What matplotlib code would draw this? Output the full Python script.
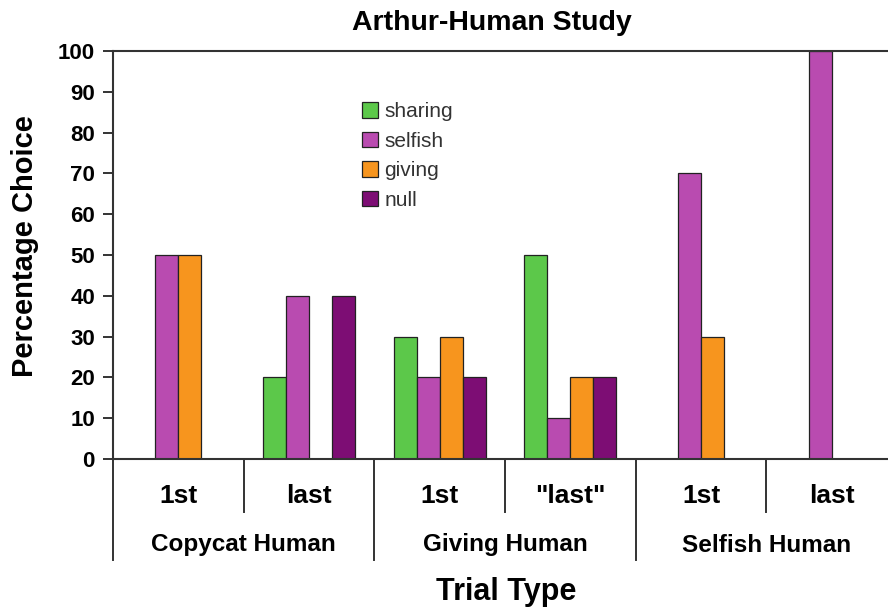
import numpy as np
import matplotlib
matplotlib.use('Agg')
import matplotlib.pyplot as plt

plt.rcParams['font.family'] = ['Liberation Sans', 'DejaVu Sans']

# data
trials = ['1st', 'last', '1st', '"last"', '1st', 'last']
groups = ['Copycat Human', 'Giving Human', 'Selfish Human']
series = ['sharing', 'selfish', 'giving', 'null']
sharing = [0, 20, 30, 50, 0, 0]
selfish = [50, 40, 20, 10, 70, 100]
giving = [50, 0, 30, 20, 30, 0]
null = [0, 40, 20, 20, 0, 0]
colors = ['#5cc84a', '#b94bb0', '#f7951e', '#7d0d74']

W, H = 888, 608
fig = plt.figure(figsize=(W / 100, H / 100), dpi=100)
left, right, top, bottom = 113, 897, 51, 459
ax = fig.add_axes([left / W, (H - bottom) / H, (right - left) / W, (bottom - top) / H])

x = np.arange(len(trials)) + 0.5
bw = 0.176
for i, (name, vals) in enumerate(zip(series, [sharing, selfish, giving, null])):
    ax.bar(x + (i - 1.5) * bw, vals, bw, color=colors[i], edgecolor='#222222',
           linewidth=0.9, label=name, zorder=2)

ax.set_xlim(0, 6)
ax.set_ylim(0, 100)
ax.set_yticks(range(0, 101, 10))
ax.set_xticks([])
for lbl in ax.get_yticklabels():
    lbl.set_fontweight('bold')
    lbl.set_fontsize(16)
ax.tick_params(axis='y', length=7, width=1.4, color='#333333', pad=6)
ax.spines['right'].set_visible(False)
for s in ['left', 'top', 'bottom']:
    ax.spines[s].set_linewidth(1.5)
    ax.spines[s].set_color('#333333')

fig.text(492 / W, 1 - 23 / H, 'Arthur-Human Study', ha='center', va='center',
         fontsize=20.5, fontweight='bold')
fig.text(25 / W, 1 - 246 / H, 'Percentage Choice', ha='center', va='center',
         rotation=90, fontsize=21, fontweight='bold')

# category axis below
tr = ax.get_xaxis_transform()
ph = bottom - top
short = -(512 - bottom) / ph
long_ = -(560 - bottom) / ph
for k in range(7):
    y1 = long_ if k % 2 == 0 else short
    ax.plot([k, k], [0, y1], color='#333333', lw=1.4, transform=tr, clip_on=False)
for k, t in enumerate(trials):
    ax.text(k + 0.5, -(496 - bottom) / ph, t, transform=tr, ha='center', va='center',
            fontsize=19, fontweight='bold')
for k, g in enumerate(groups):
    ax.text(2 * k + 1, -(545 - bottom) / ph, g, transform=tr, ha='center', va='center',
            fontsize=17.5, fontweight='bold')
fig.text(506 / W, 1 - 592 / H, 'Trial Type', ha='center', va='center',
         fontsize=22, fontweight='bold')

leg = ax.legend(loc='upper left', bbox_to_anchor=((354 - left) / (right - left), 1 - (94 - top) / ph),
                frameon=False, fontsize=15, handlelength=0.75, handleheight=0.75,
                handletextpad=0.3, labelspacing=0.5, borderaxespad=0)
for t in leg.get_texts():
    t.set_color('#333333')

fig.savefig('out.png', dpi=100)
